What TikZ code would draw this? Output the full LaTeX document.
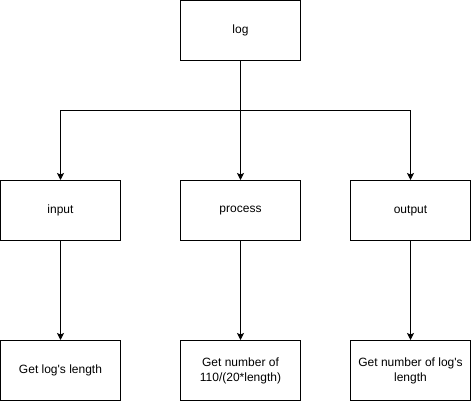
\documentclass[tikz,border=0pt]{standalone}
\usepackage{fontspec}
\setmainfont{Liberation Sans}
\usepackage{tikz}
\usetikzlibrary{arrows.meta}

\begin{document}
\begin{tikzpicture}[x=1pt,y=-1pt,>={Stealth[length=7pt,width=7pt,inset=1.5pt]},
	box/.style={draw=black,line width=1pt,minimum width=120pt,minimum height=60pt,inner sep=2pt,align=center,font=\fontsize{12}{15}\selectfont},
	link/.style={line width=1pt}]
\useasboundingbox (0,0) rectangle (471,401);
\node[box] (log) at (240.5,30.5) {log};
\node[box] (input) at (60.5,210.5) {input};
\node[box] (process) at (240.5,210.5) {process};
\node[box] (output) at (410.5,210.5) {output};
\node[box] (len) at (60.5,370.5) {Get log\textquotesingle s length};
\node[box] (num) at (240.5,370.5) {Get number of\\110/(20*length)};
\node[box] (cnt) at (410.5,370.5) {Get number of log\textquotesingle s\\length};
\coordinate (jL) at (60.5,110.5);
\coordinate (jM) at (240.5,110.5);
\coordinate (jR) at (410.5,110.5);
\draw[link] (log) -- (jM);
\draw[link] (jL) -- (jR);
\draw[link,->] (jL) -- (input);
\draw[link,->] (jM) -- (process);
\draw[link,->] (jR) -- (output);
\draw[link,->] (input) -- (len);
\draw[link,->] (process) -- (num);
\draw[link,->] (output) -- (cnt);
\end{tikzpicture}
\end{document}
